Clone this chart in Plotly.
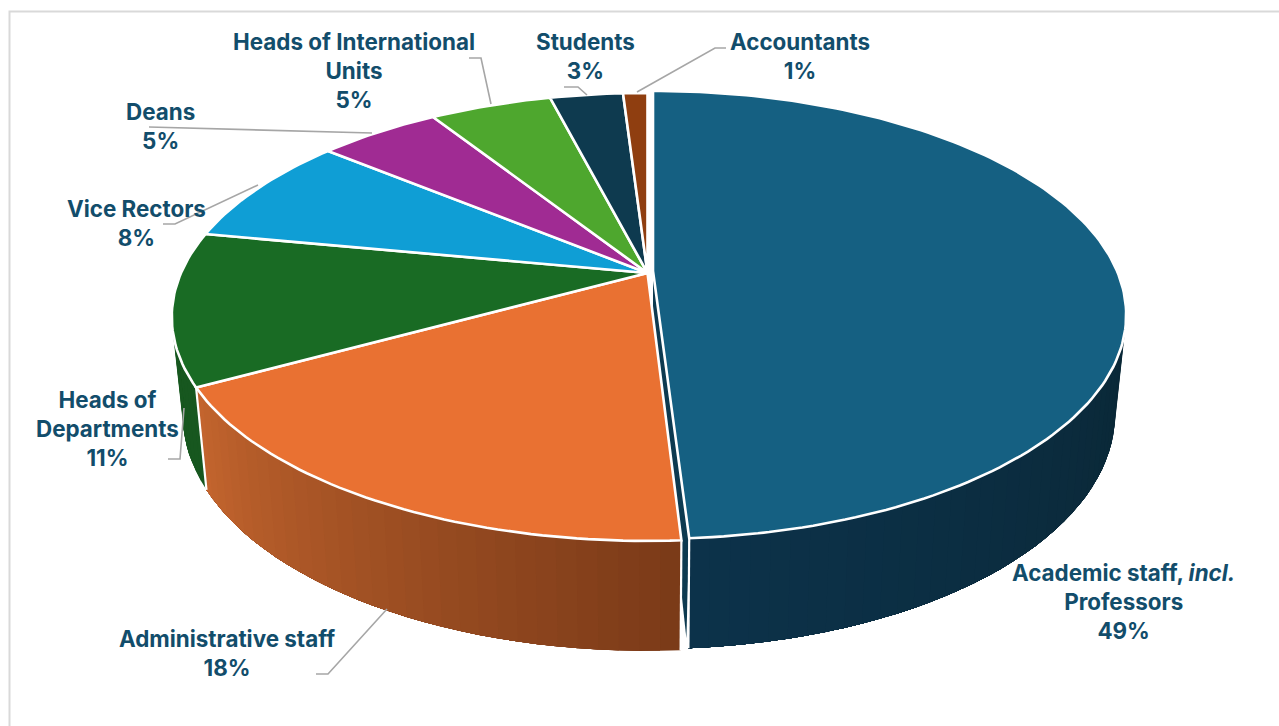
import math
import plotly.graph_objects as go

categories = ["Academic staff, <i>incl.</i><br>Professors", "Administrative staff", "Heads of<br>Departments",
              "Vice Rectors", "Deans", "Heads of International<br>Units", "Students", "Accountants"]
values = [49, 18, 11, 8, 5, 5, 3, 1]
top_colors = ["#156082", "#E97132", "#196B24", "#0F9ED5", "#A02B93", "#4EA72E", "#0E3A4F", "#8F3E10"]
wall_left = ["#0C324A", "#C4652E", "#17571F"]
wall_right = ["#0A2735", "#7A3A18", "#17571F"]
label_centers = [(1123, 601), (227, 653), (107, 428), (136, 223), (160, 126), (354, 70), (585, 56), (800, 56)]
leaders = [
    [(637, 92), (715, 48), (726, 48)],
    [(564, 87), (578, 87), (587, 95)],
    [(469, 58), (481, 58), (491, 104)],
    [(149, 127), (372, 133)],
    [(163, 224), (175, 224), (258, 185)],
    [(168, 459), (180, 459), (184, 408)],
    [(316, 674), (328, 674), (387, 609)],
]
TEXT = "#124D6B"
FONT = "Inter"

# projection of the pie disc into page pixels
K, A = 0.196, 215.4
GAP = math.radians(0.25)  # small opening beside the pulled-out slice


def top_pt(theta, c):
    cx, cy, b = c
    u, v = math.sin(theta), -math.cos(theta)
    den = 1 - K * v
    return cx + b * u / den, cy + A * v / den


def bot_pt(theta, c):
    x, y = top_pt(theta, c)
    return c[0] + (x - c[0]) * 0.977, y + 95 + 15 * (-math.cos(theta))


def mix(c1, c2, t):
    a = [int(c1[i:i + 2], 16) for i in (1, 3, 5)]
    b = [int(c2[i:i + 2], 16) for i in (1, 3, 5)]
    return "rgb(%d,%d,%d)" % tuple(round(p + (q - p) * t) for p, q in zip(a, b))


def poly(fig, pts, fill, line="white", width=0.0):
    fig.add_trace(go.Scatter(x=[p[0] for p in pts] + [pts[0][0]], y=[p[1] for p in pts] + [pts[0][1]],
                             mode="lines", fill="toself", fillcolor=fill,
                             line=dict(color=line, width=width), hoverinfo="skip", showlegend=False))


total = sum(values)
edges = [0.0]
for val in values:
    edges.append(edges[-1] + 2 * math.pi * val / total)
centers = [(653.0, 271.0, 464.0)] + [(647.5, 273.0, 466.5)] * (len(values) - 1)
starts = [edges[i] + (GAP if i == 1 else 0.0) for i in range(len(values))]

fig = go.Figure()

# cut face of the pulled-out first slice
c0 = centers[0]
end0 = edges[1]
bx, by = bot_pt(end0, c0)
poly(fig, [(c0[0], c0[1]), top_pt(end0, c0), (bx - 2, by - 10), (c0[0], c0[1] + 58)], "#0D3A50")

# outer walls: overlapping shaded bands painted one over the next, so no seams show
for i in range(3):
    c = centers[i]
    a0 = max(starts[i], math.radians(100))
    a1 = min(edges[i + 1], math.radians(262))
    n = max(8, int((a1 - a0) * 28))
    for j in range(n):
        ts = [a0 + (a1 - a0) * (j + s) / n for s in range(n - j + 1)]
        col = mix(wall_right[i], wall_left[i], (j + 0.5) / n)
        pts = [top_pt(t, c) for t in ts] + [bot_pt(t, c) for t in reversed(ts)]
        poly(fig, pts, col)

# white seams where the walls meet
for i, ang in [(0, edges[1]), (1, starts[1]), (1, edges[2])]:
    c = centers[i]
    p, q = top_pt(ang, c), bot_pt(ang, c)
    fig.add_trace(go.Scatter(x=[p[0], q[0]], y=[p[1], q[1]], mode="lines", line=dict(color="white", width=2.2),
                             hoverinfo="skip", showlegend=False))

# top faces
for i in list(range(1, len(values))) + [0]:
    c = centers[i]
    n = max(6, int((edges[i + 1] - starts[i]) * 50))
    arc = [top_pt(starts[i] + (edges[i + 1] - starts[i]) * j / n, c) for j in range(n + 1)]
    poly(fig, [(c[0], c[1])] + arc, top_colors[i], "white", 2.6)

shapes = [dict(type="rect", xref="x", yref="y", x0=9.5, y0=11.5, x1=1300, y1=760,
               line=dict(color="#D9D9D9", width=2), fillcolor="rgba(0,0,0,0)", layer="below")]
for pts in leaders:
    path = "M" + " L".join("%g,%g" % p for p in pts)
    shapes.append(dict(type="path", xref="x", yref="y", path=path, line=dict(color="#A6A6A6", width=1.6)))

annotations = []
for name, val, (lx, ly) in zip(categories, values, label_centers):
    annotations.append(dict(x=lx, y=ly, xref="x", yref="y", text=f"<b>{name}<br>{val}%</b>", showarrow=False,
                            xanchor="center", yanchor="middle", align="center",
                            font=dict(family=FONT, size=22.4, color=TEXT)))

fig.update_layout(
    width=1279, height=726, margin=dict(l=0, r=0, t=0, b=0),
    paper_bgcolor="white", plot_bgcolor="white", showlegend=False,
    xaxis=dict(range=[0, 1279], visible=False, fixedrange=True),
    yaxis=dict(range=[726, 0], visible=False, fixedrange=True),
    shapes=shapes, annotations=annotations,
)
fig.write_html("out.html", config=dict(displayModeBar=False),
               post_script="document.body.style.margin='0';document.body.style.overflow='hidden';")
